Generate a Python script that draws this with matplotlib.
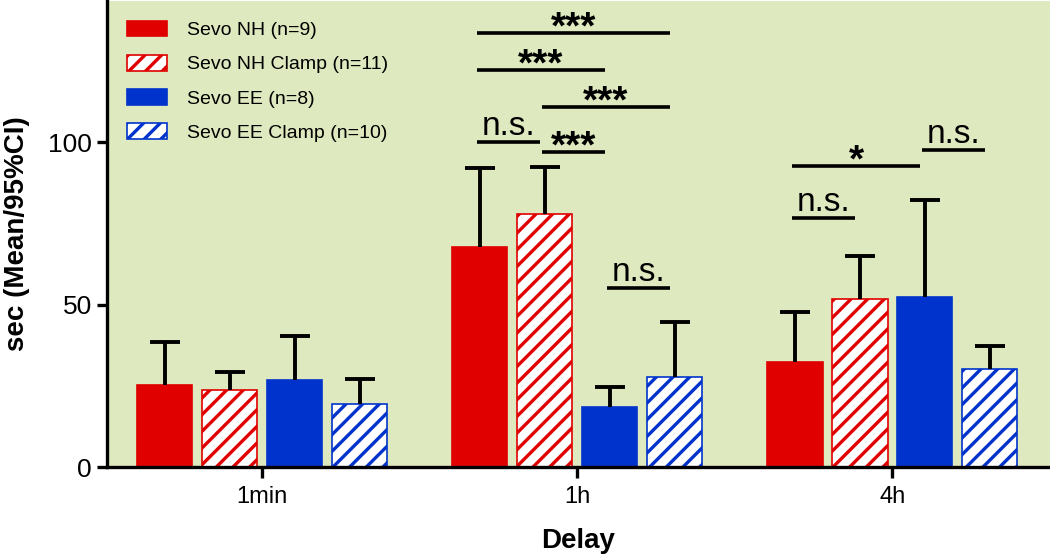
import numpy as np
import matplotlib
matplotlib.use('Agg')
import matplotlib.pyplot as plt

# Dados
grupos = ['1min', '1h', '4h']
series = ['Sevo NH (n=9)', 'Sevo NH Clamp (n=11)', 'Sevo EE (n=8)', 'Sevo EE Clamp (n=10)']
medias = [
    [25.4, 67.7, 32.2],   # Sevo NH
    [23.7, 77.8, 51.8],   # Sevo NH Clamp
    [26.7, 18.4, 52.4],   # Sevo EE
    [19.5, 27.8, 30.1],   # Sevo EE Clamp
]
ic_sup = [
    [38.5, 92.0, 47.7],
    [29.2, 92.5, 65.1],
    [40.5, 24.5, 82.2],
    [27.2, 44.7, 37.4],
]
# comparações: (grupo, barra_i, barra_j, altura, rótulo)
comparacoes = [
    (1, 0, 3, 133.8, '***'),
    (1, 0, 2, 122.2, '***'),
    (1, 1, 3, 110.9, '***'),
    (1, 0, 1, 100.1, 'n.s.'),
    (1, 1, 2, 97.0, '***'),
    (1, 2, 3, 55.2, 'n.s.'),
    (2, 0, 2, 92.7, '*'),
    (2, 2, 3, 97.6, 'n.s.'),
    (2, 0, 1, 76.8, 'n.s.'),
]

VERMELHO = '#e00000'
AZUL = '#0033cc'
FUNDO = '#dfe9bf'
estilos = [
    dict(color=VERMELHO, edgecolor=VERMELHO, hatch=None),
    dict(color='white', edgecolor=VERMELHO, hatch='//'),
    dict(color=AZUL, edgecolor=AZUL, hatch=None),
    dict(color='white', edgecolor=AZUL, hatch='//'),
]

plt.rcParams['font.family'] = ['Liberation Sans', 'DejaVu Sans']
plt.rcParams['hatch.linewidth'] = 2.4

fig = plt.figure(figsize=(10.5, 5.54), dpi=100)
ax = fig.add_axes([0.102, 0.157, 0.898, 0.841])
ax.set_facecolor(FUNDO)

x = np.arange(len(grupos))
largura = 0.175
passo = 0.206
offsets = [-1.5 * passo, -0.5 * passo, 0.5 * passo, 1.5 * passo]

handles = []
for k in range(4):
    pos = x + offsets[k]
    est = estilos[k]
    b = ax.bar(pos, medias[k], width=largura, color=est['color'],
               edgecolor=est['edgecolor'], hatch=est['hatch'], linewidth=1.2,
               label=series[k], zorder=2)
    handles.append(b)
    erro = np.array(ic_sup[k]) - np.array(medias[k])
    _, caps, _ = ax.errorbar(pos, medias[k], yerr=[np.zeros(3), erro], fmt='none',
                             ecolor='black', elinewidth=2.8, capsize=11,
                             capthick=2.8, zorder=3)
    # só o traço de cima (IC superior)
    caps[0].set_visible(False)

# barras de significância
for g, i, j, h, rot in comparacoes:
    x1 = g + offsets[i] - 0.01
    x2 = g + offsets[j] - 0.015
    ax.plot([x1, x2], [h, h], color='black', lw=2.6, solid_capstyle='butt', zorder=4)
    xm = (x1 + x2) / 2
    if rot == 'n.s.':
        ax.annotate(rot, (xm, h), xytext=(0, 5), textcoords='offset points',
                    ha='center', va='baseline', fontsize=24)
    else:
        ax.annotate(rot, (xm, h), xytext=(0, -4), textcoords='offset points',
                    ha='center', va='baseline', fontsize=28, fontweight='bold')

ax.set_xlim(-0.492, 2.5)
ax.set_ylim(0, 143.5)
ax.set_yticks([0, 50, 100])
ax.set_xticks(x)
ax.set_xticklabels(grupos)

for lado in ['top', 'right']:
    ax.spines[lado].set_visible(False)
for lado in ['left', 'bottom']:
    ax.spines[lado].set_linewidth(2.4)
ax.tick_params(axis='y', length=7, width=2.4, labelsize=19, pad=4)
ax.tick_params(axis='x', length=8, width=2.4, labelsize=17, pad=6)

ax.set_ylabel('sec (Mean/95%CI)', fontsize=20, fontweight='bold', labelpad=13)
ax.set_xlabel('Delay', fontsize=20, fontweight='bold', labelpad=14)

ax.legend(handles=handles, loc='upper left', bbox_to_anchor=(0.0, 1.0),
          frameon=False, fontsize=14, handlelength=2.1, handleheight=0.88,
          handletextpad=1.0, labelspacing=0.8, borderaxespad=0.6)

fig.savefig('out.png', dpi=100, facecolor='white')
